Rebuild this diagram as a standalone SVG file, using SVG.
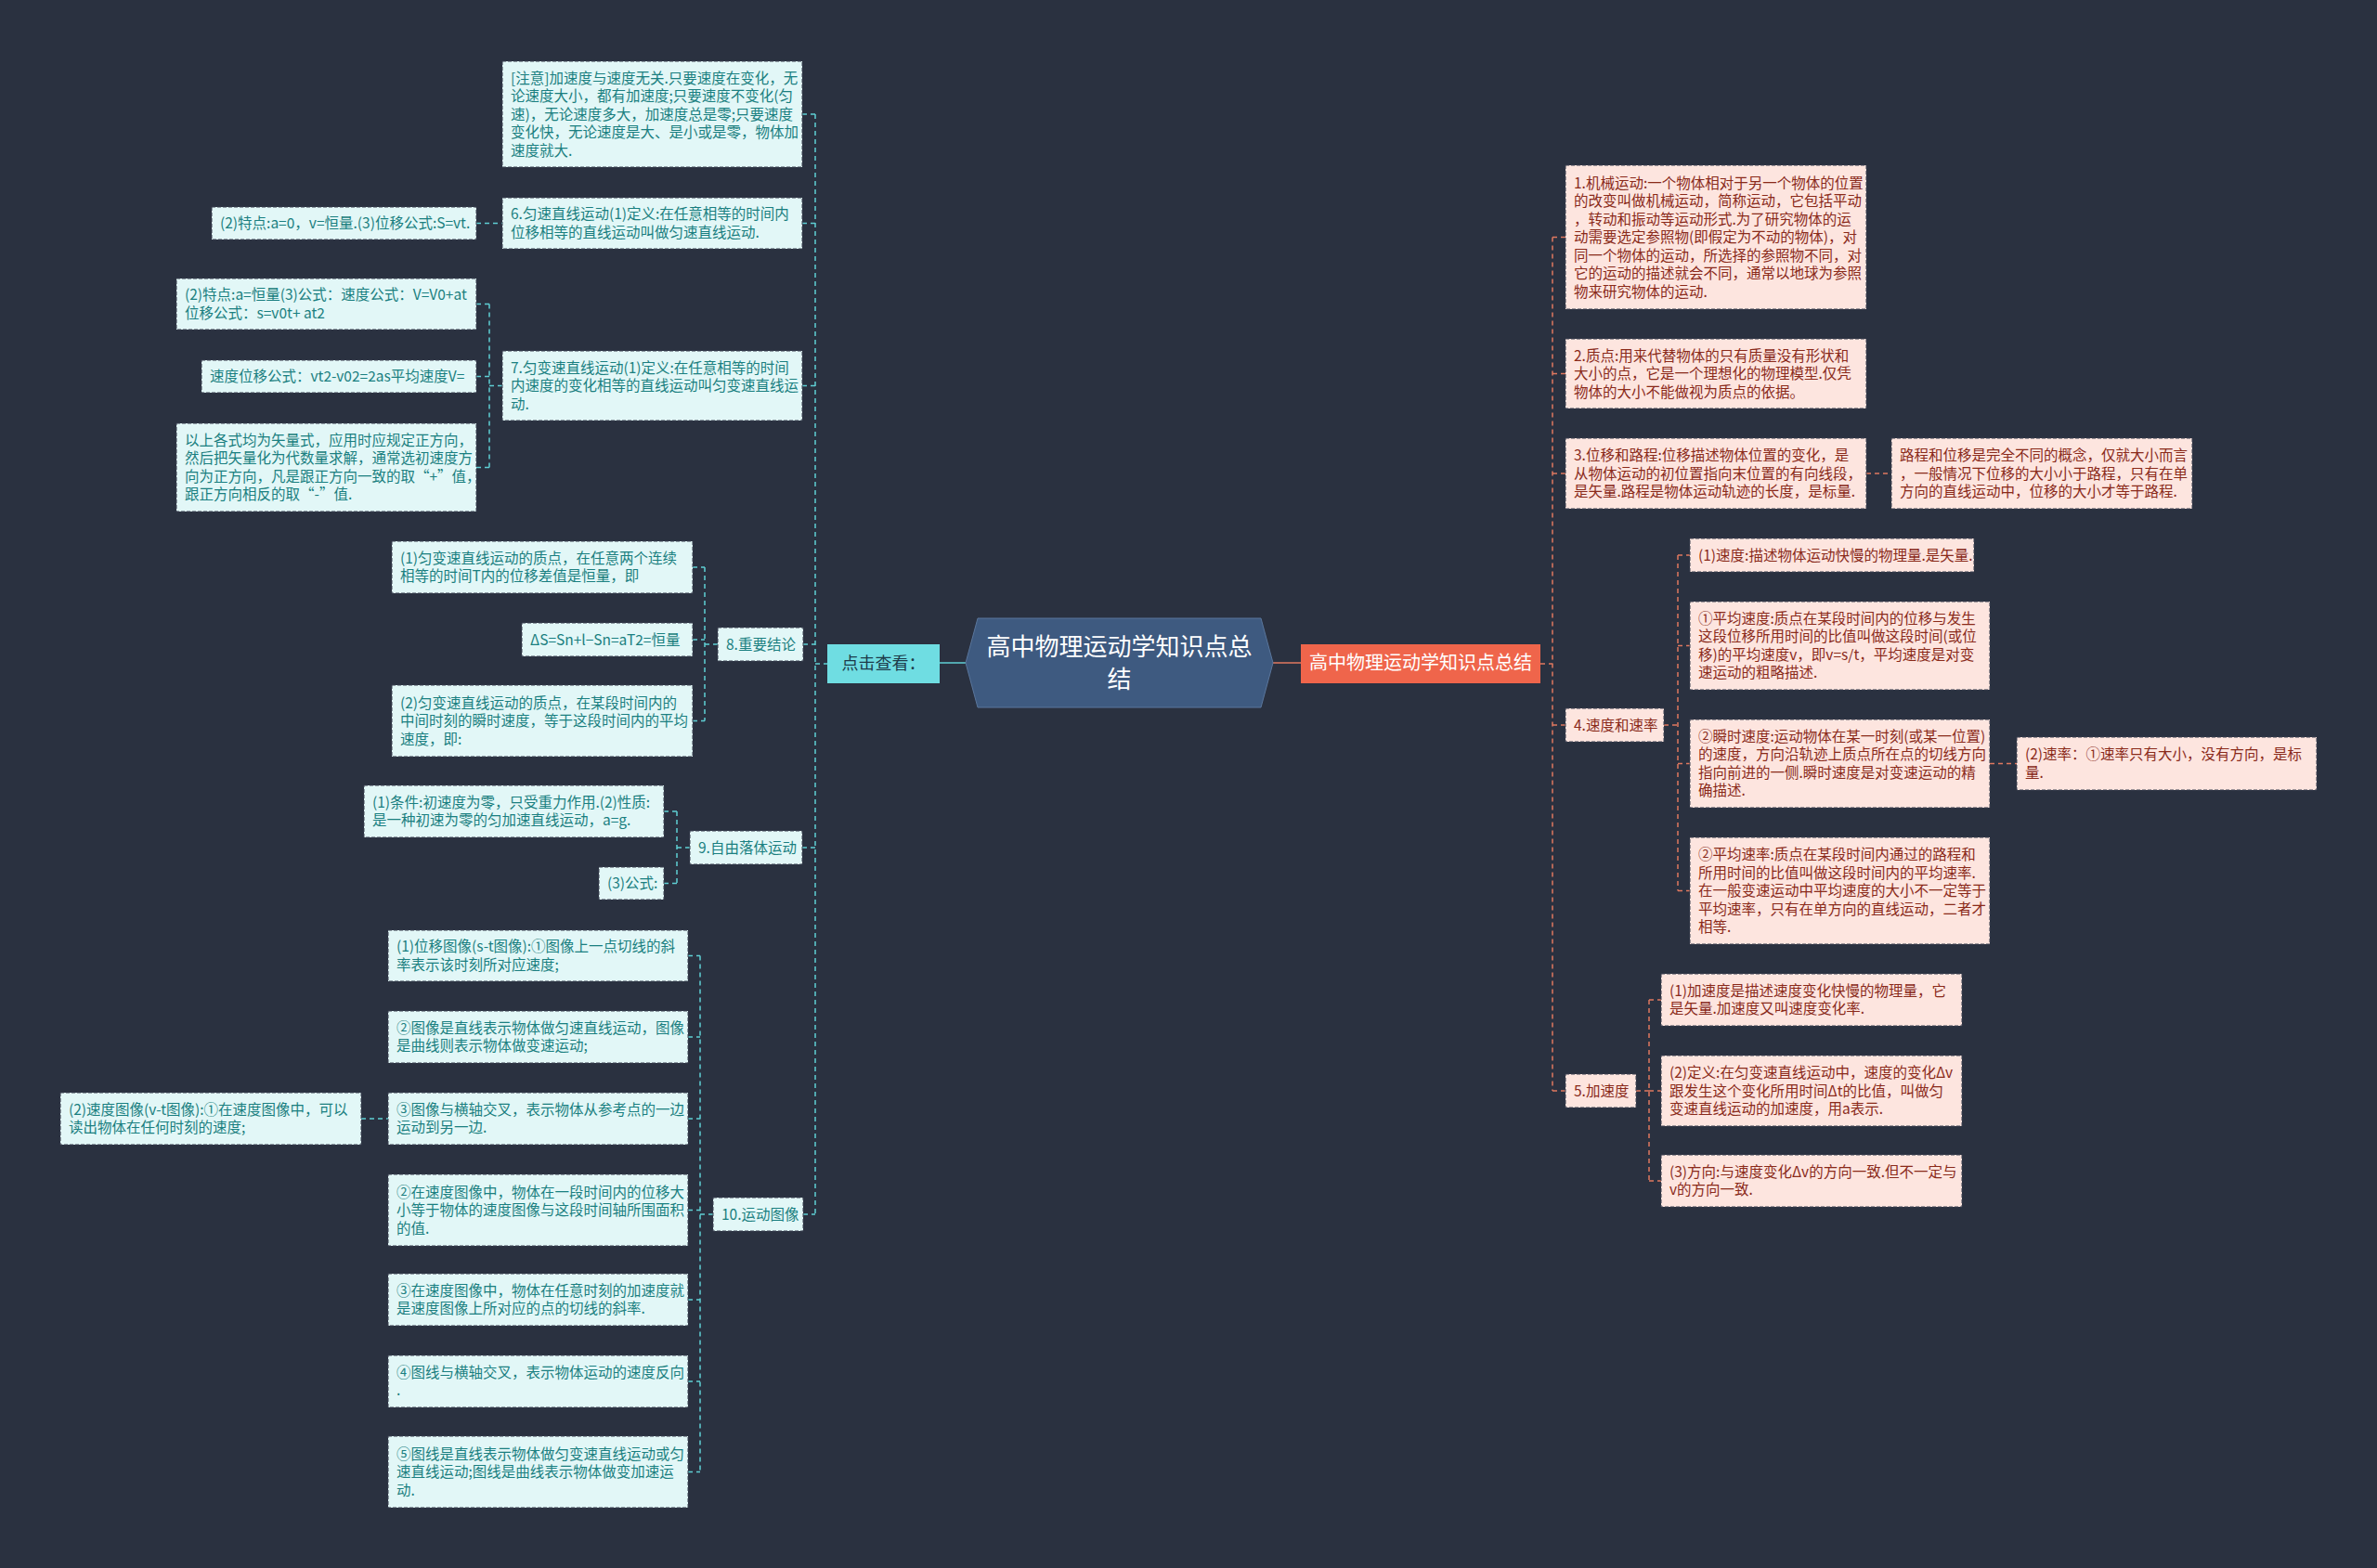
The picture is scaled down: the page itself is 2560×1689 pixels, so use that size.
<svg xmlns="http://www.w3.org/2000/svg" width="2560" height="1689" viewBox="0 0 2560 1689">
<style>
.bg{fill:#2a3140}
.lb{fill:#e2f7f7;stroke:#3a4150;stroke-width:1;stroke-dasharray:4 2}
.rb{fill:#fde5df;stroke:#3a4150;stroke-width:1;stroke-dasharray:4 2}
.lt{font-family:"Noto Sans CJK SC","Liberation Sans",sans-serif;font-size:15.5px;fill:#1a7f80}
.rt{font-family:"Noto Sans CJK SC","Liberation Sans",sans-serif;font-size:15.5px;fill:#8a2a1a}
.lc{fill:none;stroke:#5fcfd4;stroke-width:1.5;stroke-dasharray:5 4}
.rc{fill:none;stroke:#e0785f;stroke-width:1.5;stroke-dasharray:5 4}
</style>
<rect class="bg" x="0" y="0" width="2560" height="1689"/>

<g id="connectors">
<path class="lc" d="M878,123 V1308 M864,123 H878 M864,240.5 H878 M864,415.5 H878 M865,694 H878 M864,913 H878 M865,1308 H878 M878,715 H891"/>
<path class="lc" d="M513,240.5 H541"/>
<path class="lc" d="M513,327.5 H527 M513,405.5 H527 M513,503.5 H527 M527,327.5 V503.5 M527,415.5 H541"/>
<path class="lc" d="M746,611 H759 M746,689 H759 M746,776.5 H759 M759,611 V776.5 M759,694 H773"/>
<path class="lc" d="M715,874 H729 M715,951.5 H729 M729,874 V951.5 M729,913 H743"/>
<path class="lc" d="M741,1029.5 H754 M741,1117 H754 M741,1205 H754 M741,1303.5 H754 M741,1400 H754 M741,1488 H754 M741,1585.5 H754 M754,1029.5 V1585.5 M754,1308 H768"/>
<path class="lc" d="M389,1205 H418"/>
<path fill="none" stroke="#5fcfd4" stroke-width="1.5" d="M1012,714 H1040"/>
<path fill="none" stroke="#e0785f" stroke-width="1.5" d="M1371,714 H1401"/>
<path class="rc" d="M1672,255.5 V1175 M1659,715 H1672 M1672,255.5 H1686 M1672,402.5 H1686 M1672,510 H1686 M1672,781 H1686 M1672,1175 H1686"/>
<path class="rc" d="M2010,510 H2037"/>
<path class="rc" d="M1792,781 H1807 M1807,598 V959.5 M1807,598 H1820 M1807,695.5 H1820 M1807,822.5 H1820 M1807,959.5 H1820"/>
<path class="rc" d="M2143,822.5 H2172"/>
<path class="rc" d="M1762,1175 H1776 M1776,1077 V1272 M1776,1077 H1789 M1776,1175 H1789 M1776,1272 H1789"/>
</g>

<g id="root">
<path d="M1053,666 L1358,666 L1371,714 L1358,762 L1053,762 L1040,714 Z" fill="#3e5a80" stroke="#5a769c" stroke-width="1"/>
<text x="1205.5" y="706" text-anchor="middle" font-family="Noto Sans CJK SC,Liberation Sans,sans-serif" font-size="26" fill="#ffffff">高中物理运动学知识点总</text>
<text x="1205.5" y="741" text-anchor="middle" font-family="Noto Sans CJK SC,Liberation Sans,sans-serif" font-size="26" fill="#ffffff">结</text>
</g>

<g id="left-main">
<rect x="891" y="694" width="121" height="42" fill="#6fdde2"/>
<text x="951.5" y="721" text-anchor="middle" font-family="Noto Sans CJK SC,Liberation Sans,sans-serif" font-size="18" fill="#1d3b4a">点击查看：</text>
</g>

<g id="right-main">
<rect x="1401" y="694" width="258" height="42" fill="#ef654b"/>
<text x="1530" y="721" text-anchor="middle" font-family="Noto Sans CJK SC,Liberation Sans,sans-serif" font-size="20" fill="#ffffff">高中物理运动学知识点总结</text>
</g>

<g id="note">
<rect class="lb" x="541" y="66" width="323" height="114"/>
<text class="lt"><tspan x="550" y="89.5">[注意]加速度与速度无关.只要速度在变化，无</tspan><tspan x="550" y="109">论速度大小，都有加速度;只要速度不变化(匀</tspan><tspan x="550" y="128.5">速)，无论速度多大，加速度总是零;只要速度</tspan><tspan x="550" y="148">变化快，无论速度是大、是小或是零，物体加</tspan><tspan x="550" y="167.5">速度就大.</tspan></text>
</g>

<g id="n6">
<rect class="lb" x="541" y="213" width="323" height="55"/>
<text class="lt"><tspan x="550" y="236.25">6.匀速直线运动(1)定义:在任意相等的时间内</tspan><tspan x="550" y="255.75">位移相等的直线运动叫做匀速直线运动.</tspan></text>
</g>
<g id="n6a">
<rect class="lb" x="228" y="223" width="285" height="35"/>
<text class="lt" x="237" y="246">(2)特点:a=0，v=恒量.(3)位移公式:S=vt.</text>
</g>

<g id="n7">
<rect class="lb" x="541" y="378" width="323" height="75"/>
<text class="lt"><tspan x="550" y="401.5">7.匀变速直线运动(1)定义:在任意相等的时间</tspan><tspan x="550" y="421">内速度的变化相等的直线运动叫匀变速直线运</tspan><tspan x="550" y="440.5">动.</tspan></text>
</g>
<g id="n7a">
<rect class="lb" x="190" y="300" width="323" height="55"/>
<text class="lt"><tspan x="199" y="323.25">(2)特点:a=恒量(3)公式：速度公式：V=V0+at</tspan><tspan x="199" y="342.75">位移公式：s=v0t+ at2</tspan></text>
</g>
<g id="n7b">
<rect class="lb" x="217" y="388" width="296" height="35"/>
<text class="lt" x="226" y="411">速度位移公式：vt2-v02=2as平均速度V=</text>
</g>
<g id="n7c">
<rect class="lb" x="190" y="456" width="323" height="95"/>
<text class="lt"><tspan x="199" y="479.75">以上各式均为矢量式，应用时应规定正方向，</tspan><tspan x="199" y="499.25">然后把矢量化为代数量求解，通常选初速度方</tspan><tspan x="199" y="518.75">向为正方向，凡是跟正方向一致的取“+”值，</tspan><tspan x="199" y="538.25">跟正方向相反的取“-”值.</tspan></text>
</g>

<g id="n8">
<rect class="lb" x="773" y="676" width="92" height="36"/>
<text class="lt" x="782" y="699.5">8.重要结论</text>
</g>
<g id="n8a">
<rect class="lb" x="422" y="583" width="324" height="56"/>
<text class="lt"><tspan x="431" y="606.75">(1)匀变速直线运动的质点，在任意两个连续</tspan><tspan x="431" y="626.25">相等的时间T内的位移差值是恒量，即</tspan></text>
</g>
<g id="n8b">
<rect class="lb" x="562" y="671" width="184" height="36"/>
<text class="lt" x="571" y="694.5">ΔS=Sn+l−Sn=aT2=恒量</text>
</g>
<g id="n8c">
<rect class="lb" x="422" y="738" width="324" height="77"/>
<text class="lt"><tspan x="431" y="762.5">(2)匀变速直线运动的质点，在某段时间内的</tspan><tspan x="431" y="782">中间时刻的瞬时速度，等于这段时间内的平均</tspan><tspan x="431" y="801.5">速度，即:</tspan></text>
</g>

<g id="n9">
<rect class="lb" x="743" y="895" width="121" height="36"/>
<text class="lt" x="752" y="918.5">9.自由落体运动</text>
</g>
<g id="n9a">
<rect class="lb" x="392" y="846" width="323" height="56"/>
<text class="lt"><tspan x="401" y="869.75">(1)条件:初速度为零，只受重力作用.(2)性质:</tspan><tspan x="401" y="889.25">是一种初速为零的匀加速直线运动，a=g.</tspan></text>
</g>
<g id="n9b">
<rect class="lb" x="645" y="934" width="70" height="35"/>
<text class="lt" x="654" y="957">(3)公式:</text>
</g>

<g id="n10">
<rect class="lb" x="768" y="1290" width="97" height="36"/>
<text class="lt" x="777" y="1313.5">10.运动图像</text>
</g>
<g id="n10a">
<rect class="lb" x="418" y="1002" width="323" height="55"/>
<text class="lt"><tspan x="427" y="1025.25">(1)位移图像(s-t图像):①图像上一点切线的斜</tspan><tspan x="427" y="1044.75">率表示该时刻所对应速度;</tspan></text>
</g>
<g id="n10b">
<rect class="lb" x="418" y="1089" width="323" height="56"/>
<text class="lt"><tspan x="427" y="1112.75">②图像是直线表示物体做匀速直线运动，图像</tspan><tspan x="427" y="1132.25">是曲线则表示物体做变速运动;</tspan></text>
</g>
<g id="n10c">
<rect class="lb" x="418" y="1177" width="323" height="56"/>
<text class="lt"><tspan x="427" y="1200.75">③图像与横轴交叉，表示物体从参考点的一边</tspan><tspan x="427" y="1220.25">运动到另一边.</tspan></text>
</g>
<g id="n10c1">
<rect class="lb" x="65" y="1177" width="324" height="56"/>
<text class="lt"><tspan x="74" y="1200.75">(2)速度图像(v-t图像):①在速度图像中，可以</tspan><tspan x="74" y="1220.25">读出物体在任何时刻的速度;</tspan></text>
</g>
<g id="n10d">
<rect class="lb" x="418" y="1265" width="323" height="77"/>
<text class="lt"><tspan x="427" y="1289.5">②在速度图像中，物体在一段时间内的位移大</tspan><tspan x="427" y="1309">小等于物体的速度图像与这段时间轴所围面积</tspan><tspan x="427" y="1328.5">的值.</tspan></text>
</g>
<g id="n10e">
<rect class="lb" x="418" y="1372" width="323" height="56"/>
<text class="lt"><tspan x="427" y="1395.75">③在速度图像中，物体在任意时刻的加速度就</tspan><tspan x="427" y="1415.25">是速度图像上所对应的点的切线的斜率.</tspan></text>
</g>
<g id="n10f">
<rect class="lb" x="418" y="1460" width="323" height="56"/>
<text class="lt"><tspan x="427" y="1483.75">④图线与横轴交叉，表示物体运动的速度反向</tspan><tspan x="427" y="1503.25">.</tspan></text>
</g>
<g id="n10g">
<rect class="lb" x="418" y="1547" width="323" height="77"/>
<text class="lt"><tspan x="427" y="1571.5">⑤图线是直线表示物体做匀变速直线运动或匀</tspan><tspan x="427" y="1591">速直线运动;图线是曲线表示物体做变加速运</tspan><tspan x="427" y="1610.5">动.</tspan></text>
</g>

<g id="r1">
<rect class="rb" x="1686" y="178" width="324" height="155"/>
<text class="rt"><tspan x="1695" y="202.5">1.机械运动:一个物体相对于另一个物体的位置</tspan><tspan x="1695" y="222">的改变叫做机械运动，简称运动，它包括平动</tspan><tspan x="1695" y="241.5">，转动和振动等运动形式.为了研究物体的运</tspan><tspan x="1695" y="261">动需要选定参照物(即假定为不动的物体)，对</tspan><tspan x="1695" y="280.5">同一个物体的运动，所选择的参照物不同，对</tspan><tspan x="1695" y="300">它的运动的描述就会不同，通常以地球为参照</tspan><tspan x="1695" y="319.5">物来研究物体的运动.</tspan></text>
</g>
<g id="r2">
<rect class="rb" x="1686" y="365" width="324" height="75"/>
<text class="rt"><tspan x="1695" y="388.5">2.质点:用来代替物体的只有质量没有形状和</tspan><tspan x="1695" y="408">大小的点，它是一个理想化的物理模型.仅凭</tspan><tspan x="1695" y="427.5">物体的大小不能做视为质点的依据。</tspan></text>
</g>
<g id="r3">
<rect class="rb" x="1686" y="472" width="324" height="76"/>
<text class="rt"><tspan x="1695" y="496">3.位移和路程:位移描述物体位置的变化，是</tspan><tspan x="1695" y="515.5">从物体运动的初位置指向末位置的有向线段，</tspan><tspan x="1695" y="535">是矢量.路程是物体运动轨迹的长度，是标量.</tspan></text>
</g>
<g id="r3a">
<rect class="rb" x="2037" y="472" width="324" height="76"/>
<text class="rt"><tspan x="2046" y="496">路程和位移是完全不同的概念，仅就大小而言</tspan><tspan x="2046" y="515.5">，一般情况下位移的大小小于路程，只有在单</tspan><tspan x="2046" y="535">方向的直线运动中，位移的大小才等于路程.</tspan></text>
</g>

<g id="r4">
<rect class="rb" x="1686" y="763" width="106" height="36"/>
<text class="rt" x="1695" y="786.5">4.速度和速率</text>
</g>
<g id="r4a">
<rect class="rb" x="1820" y="580" width="306" height="36"/>
<text class="rt" x="1829" y="603.5">(1)速度:描述物体运动快慢的物理量.是矢量.</text>
</g>
<g id="r4b">
<rect class="rb" x="1820" y="648" width="323" height="95"/>
<text class="rt"><tspan x="1829" y="671.75">①平均速度:质点在某段时间内的位移与发生</tspan><tspan x="1829" y="691.25">这段位移所用时间的比值叫做这段时间(或位</tspan><tspan x="1829" y="710.75">移)的平均速度v，即v=s/t，平均速度是对变</tspan><tspan x="1829" y="730.25">速运动的粗略描述.</tspan></text>
</g>
<g id="r4c">
<rect class="rb" x="1820" y="775" width="323" height="95"/>
<text class="rt"><tspan x="1829" y="798.75">②瞬时速度:运动物体在某一时刻(或某一位置)</tspan><tspan x="1829" y="818.25">的速度，方向沿轨迹上质点所在点的切线方向</tspan><tspan x="1829" y="837.75">指向前进的一侧.瞬时速度是对变速运动的精</tspan><tspan x="1829" y="857.25">确描述.</tspan></text>
</g>
<g id="r4c1">
<rect class="rb" x="2172" y="794" width="323" height="57"/>
<text class="rt"><tspan x="2181" y="818.25">(2)速率：①速率只有大小，没有方向，是标</tspan><tspan x="2181" y="837.75">量.</tspan></text>
</g>
<g id="r4d">
<rect class="rb" x="1820" y="902" width="323" height="115"/>
<text class="rt"><tspan x="1829" y="926">②平均速率:质点在某段时间内通过的路程和</tspan><tspan x="1829" y="945.5">所用时间的比值叫做这段时间内的平均速率.</tspan><tspan x="1829" y="965">在一般变速运动中平均速度的大小不一定等于</tspan><tspan x="1829" y="984.5">平均速率，只有在单方向的直线运动，二者才</tspan><tspan x="1829" y="1004">相等.</tspan></text>
</g>

<g id="r5">
<rect class="rb" x="1686" y="1157" width="76" height="36"/>
<text class="rt" x="1695" y="1180.5">5.加速度</text>
</g>
<g id="r5a">
<rect class="rb" x="1789" y="1049" width="324" height="56"/>
<text class="rt"><tspan x="1798" y="1072.75">(1)加速度是描述速度变化快慢的物理量，它</tspan><tspan x="1798" y="1092.25">是矢量.加速度又叫速度变化率.</tspan></text>
</g>
<g id="r5b">
<rect class="rb" x="1789" y="1137" width="324" height="76"/>
<text class="rt"><tspan x="1798" y="1161">(2)定义:在匀变速直线运动中，速度的变化Δv</tspan><tspan x="1798" y="1180.5">跟发生这个变化所用时间Δt的比值，叫做匀</tspan><tspan x="1798" y="1200">变速直线运动的加速度，用a表示.</tspan></text>
</g>
<g id="r5c">
<rect class="rb" x="1789" y="1244" width="324" height="56"/>
<text class="rt"><tspan x="1798" y="1267.75">(3)方向:与速度变化Δv的方向一致.但不一定与</tspan><tspan x="1798" y="1287.25">v的方向一致.</tspan></text>
</g>
</svg>
